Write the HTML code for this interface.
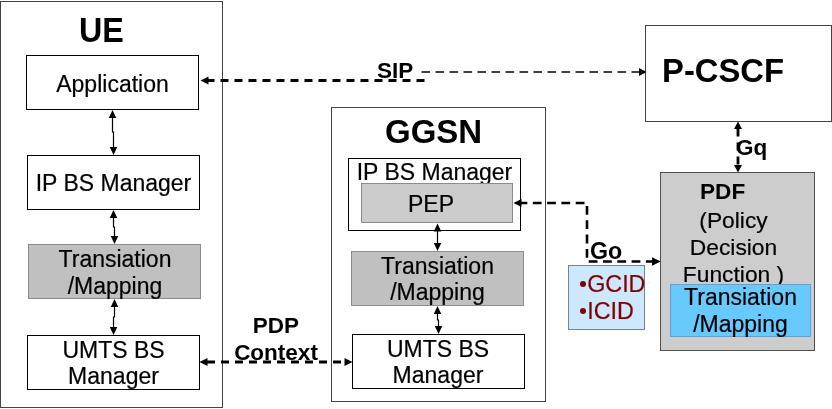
<!DOCTYPE html>
<html>
<head>
<meta charset="utf-8">
<title>Diagram</title>
<style>
html,body{margin:0;padding:0;background:#fff;}
body{width:832px;height:409px;position:relative;overflow:hidden;font-family:"Liberation Sans",sans-serif;color:#000;}
.b{position:absolute;box-sizing:border-box;border:1px solid #000;background:#fff;}
.o{position:absolute;box-sizing:border-box;border:1px solid #444;background:#fff;}
.g{position:absolute;box-sizing:border-box;border:1px solid #8c8c8c;background:#c0c0c0;}
.t,.h,.l{will-change:transform;}
.t{position:absolute;white-space:nowrap;font-size:23px;line-height:26.5px;text-align:center;-webkit-text-stroke:0.200px currentColor;}
.h{position:absolute;white-space:nowrap;font-weight:bold;font-size:33.5px;line-height:36px;}
.l{position:absolute;white-space:nowrap;font-weight:bold;font-size:22.5px;line-height:24px;}
svg{position:absolute;left:0;top:0;}
.bu{display:inline-block;width:6.200px;height:6.200px;border-radius:50%;background:#800000;margin:0 1px 0 1px;vertical-align:4.900px;}
</style>
</head>
<body>
<!-- UE -->
<div class="o" style="left:0;top:1px;width:223px;height:407px;"></div>
<div class="h" style="left:78.700px;top:12.700px;font-size:32.300px;transform:scaleY(1.085);transform-origin:50% 29.200px;">UE</div>
<div class="b" style="left:26px;top:55px;width:173px;height:55px;"></div>
<div class="t" style="left:26px;top:70.500px;width:173px;">Application</div>
<div class="b" style="left:27px;top:155px;width:173px;height:55px;"></div>
<div class="t" style="left:27px;top:170px;width:173px;">IP BS Manager</div>
<div class="g" style="left:28px;top:244px;width:173px;height:55px;"></div>
<div class="t" style="left:28px;top:246px;width:174px;">Transiation<br>/Mapping</div>
<div class="b" style="left:27px;top:335px;width:173px;height:55px;"></div>
<div class="t" style="left:27px;top:337px;width:173px;line-height:26px;">UMTS BS<br>Manager</div>

<!-- GGSN -->
<div class="o" style="left:331px;top:107px;width:215px;height:295px;"></div>
<div class="h" style="left:385px;top:114.300px;font-size:33px;transform:scaleY(1.025);transform-origin:50% 29.400px;">GGSN</div>
<div class="b" style="left:348px;top:158px;width:173px;height:73px;"></div>
<div class="t" style="left:348px;top:159px;width:173px;">IP BS Manager</div>
<div class="g" style="left:361px;top:183px;width:152px;height:40px;background:#cccccc;"></div>
<div class="t" style="left:354.500px;top:190.700px;width:152px;">PEP</div>
<div class="g" style="left:351px;top:251px;width:173px;height:55px;"></div>
<div class="t" style="left:351px;top:253px;width:173px;line-height:26px;">Transiation<br>/Mapping</div>
<div class="b" style="left:352px;top:334px;width:173px;height:55px;"></div>
<div class="t" style="left:351px;top:336px;width:174px;line-height:26px;">UMTS BS<br>Manager</div>

<!-- P-CSCF -->
<div class="o" style="left:645px;top:25px;width:187px;height:97px;"></div>
<div class="h" style="left:662px;top:52.900px;font-size:32.800px;transform:scaleY(1.020);transform-origin:50% 29.360px;">P-CSCF</div>

<!-- PDF -->
<div class="g" style="left:660px;top:172px;width:155px;height:179px;border-color:#505050;background:#cdcdcd;"></div>
<div class="l" style="left:700px;top:180px;font-size:22.600px;">PDF</div>
<div class="t" style="left:656px;top:207px;width:155px;line-height:26.800px;font-size:22.800px;">(Policy<br>Decision<br>Function )</div>
<div class="g" style="left:670px;top:284px;width:141px;height:53px;background:#68cafc;border-color:#66a0c6;"></div>
<div class="t" style="left:670px;top:284px;width:141px;line-height:27px;">Transiation<br>/Mapping</div>

<!-- GCID -->
<div class="g" style="left:568px;top:265px;width:77px;height:65px;background:#cde7fd;border-color:#76848f;"></div>
<div class="t" style="left:579px;top:270.500px;text-align:left;color:#800000;line-height:27.200px;font-size:23.300px;"><span class="bu"></span>GCID<br><span class="bu"></span>ICID</div>

<!-- labels -->
<div class="l" style="left:377px;top:58.500px;">SIP</div>
<div class="l" style="left:222.700px;top:311.700px;line-height:27.200px;text-align:center;width:106px;">PDP<br>Context</div>
<div class="l" style="left:735.500px;top:136px;">Gq</div>
<div class="l" style="left:589.800px;top:239.300px;font-size:23.200px;">Go</div>

<svg width="832" height="409" viewBox="0 0 832 409">
<g stroke="#000" fill="none">
<polyline points="112.5,117 112.5,132 113.5,132 113.5,148" stroke-width="1.200"/>
<polyline points="113.5,217 113.5,227 114.5,227 114.5,237" stroke-width="1.200"/>
<polyline points="114.5,306 114.5,317 113.5,317 113.5,328" stroke-width="1.200"/>
<polyline points="437.5,230.5 437.5,237 437.5,237 437.5,244" stroke-width="1.200"/>
<polyline points="437.5,313 437.5,320 438.5,320 438.5,327" stroke-width="1.200"/>
<line x1="207" y1="80.500" x2="425" y2="80.500" stroke-width="2.800" stroke-dasharray="8 6" stroke-dashoffset="0.500"/>
<line x1="421.500" y1="72" x2="640" y2="72" stroke-width="1.500" stroke-dasharray="8.600 5.400"/>
<line x1="207" y1="362" x2="346" y2="362" stroke-width="2.800" stroke-dasharray="8 6"/>
<line x1="738" y1="128.500" x2="738" y2="166" stroke-width="2.800" stroke-dasharray="8 6"/>
<polyline points="520,203 587,203 587,261.500 654,261.500" stroke-width="2.600" stroke-dasharray="8.800 5.500" stroke-dashoffset="1.500"/>
</g>
<g fill="#000" stroke="none">
<polygon points="112.5,110 108.75,118 116.25,118"/>
<polygon points="113.5,155 109.75,147 117.25,147"/>
<polygon points="113.5,210 109.75,218 117.25,218"/>
<polygon points="114.5,244 110.75,236 118.25,236"/>
<polygon points="114.5,299 110.75,307 118.25,307"/>
<polygon points="113.5,335 109.75,327 117.25,327"/>
<polygon points="437.5,223.5 433.75,231.5 441.25,231.5"/>
<polygon points="437.5,251 433.75,243 441.25,243"/>
<polygon points="437.5,306 433.75,314 441.25,314"/>
<polygon points="438.5,334 434.75,326 442.25,326"/>
<polygon points="200.5,80.5 208.5,76.5 208.5,84.5"/>
<polygon points="646.5,72 639.0,68.0 639.0,76.0"/>
<polygon points="199.5,362 207.5,358.0 207.5,366.0"/>
<polygon points="352.5,362 344.5,358.0 344.5,366.0"/>
<polygon points="738,121.5 734.0,129.0 742.0,129.0"/>
<polygon points="738,172.5 734.0,165.0 742.0,165.0"/>
<polygon points="513.5,203 521.5,199.0 521.5,207.0"/>
<polygon points="660.700,261.500 652,257.200 652,265.800"/>
</g>
</svg>
</body>
</html>
